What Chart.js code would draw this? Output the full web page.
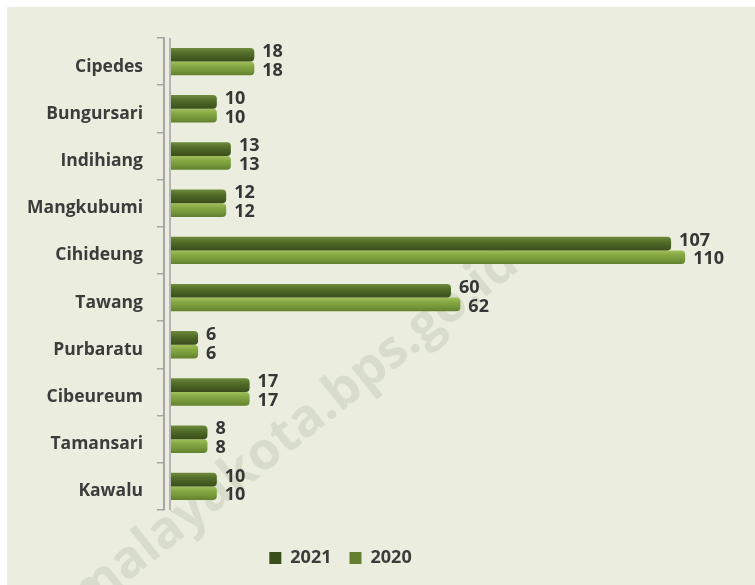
<!DOCTYPE html>
<html>
<head>
<meta charset="utf-8">
<script src="https://cdn.jsdelivr.net/npm/chart.js@4.4.1/dist/chart.umd.min.js"></script>
<style>
  html, body { margin: 0; padding: 0; background: #fff; }
  #panel { position: absolute; left: 7px; top: 7px; width: 748px; height: 578px; background: #ebeedf; }
</style>
</head>
<body>
<div id="panel"><canvas id="chartCanvas"></canvas></div>
<script>
// Kecamatan data
const categories = ["Cipedes", "Bungursari", "Indihiang", "Mangkubumi", "Cihideung",
  "Tawang", "Purbaratu", "Cibeureum", "Tamansari", "Kawalu"];
const values2021 = [18, 10, 13, 12, 107, 60, 6, 17, 8, 10];
const values2020 = [18, 10, 13, 12, 110, 62, 6, 17, 8, 10];
const seriesLabels = ["2021", "2020"];

const FONT = "'Open Sans', 'Noto Sans', sans-serif";
const CAT_PCT = 0.58;

// cylinder-ish shading for each bar, computed from the category scale
function barShade(stops, flat, dsIndex) {
  return (c) => {
    if (c.type !== "data") return flat;
    const y = c.chart.scales.y;
    if (!y || y.ticks.length < 2) return flat;
    const band = Math.abs(y.getPixelForValue(1) - y.getPixelForValue(0));
    const half = band * CAT_PCT / 2;
    const mid = y.getPixelForValue(c.dataIndex) + (dsIndex - 0.5) * half;
    const g = c.chart.ctx.createLinearGradient(0, mid - half / 2, 0, mid + half / 2);
    stops.forEach((s, i) => g.addColorStop(i / (stops.length - 1), s));
    return g;
  };
}

const valueLabels = {
  id: "valueLabels",
  afterDatasetsDraw(chart) {
    const ctx = chart.ctx;
    ctx.save();
    ctx.font = "bold 18px " + FONT;
    ctx.fillStyle = "#363636";
    ctx.textAlign = "left";
    ctx.textBaseline = "middle";
    chart.data.datasets.forEach((ds, i) => {
      chart.getDatasetMeta(i).data.forEach((el, j) => {
        ctx.fillText(String(ds.data[j]), el.x + 8, el.y + (i === 0 ? -3 : 2));
      });
    });
    ctx.restore();
  }
};

const watermark = {
  id: "watermark",
  beforeDatasetsDraw(chart) {
    const ctx = chart.ctx;
    ctx.save();
    ctx.translate(505, 250);
    ctx.rotate(-38.5 * Math.PI / 180);
    ctx.font = "bold 52px " + FONT;
    ctx.fillStyle = "rgba(90,110,70,0.13)";
    ctx.textAlign = "right";
    ctx.textBaseline = "middle";
    ctx.fillText("tasikmalayakota.bps.go.id", 0, 0);
    ctx.restore();
  }
};

// nudge the legend left, it is not centred on the canvas in the original
const legendShift = {
  id: "legendShift",
  afterLayout(chart) {
    if (chart.legend) {
      chart.legend.left -= 29;
      chart.legend.right -= 29;
    }
  }
};

const ctx = document.getElementById("chartCanvas").getContext("2d");
new Chart(ctx, {
  type: "bar",
  data: {
    labels: categories,
    datasets: [
      {
        label: seriesLabels[0],
        data: values2021,
        backgroundColor: barShade(["#6f8c3c", "#55702b", "#465e22", "#3a4e1b"], "#4f6228", 0),
        borderRadius: 4
      },
      {
        label: seriesLabels[1],
        data: values2020,
        backgroundColor: barShade(["#a0c05a", "#86a843", "#76973a", "#62802e"], "#77933c", 1),
        borderRadius: 4
      }
    ]
  },
  options: {
    indexAxis: "y",
    responsive: true,
    maintainAspectRatio: false,
    animation: false,
    events: [],
    categoryPercentage: CAT_PCT,
    barPercentage: 1,
    layout: { padding: { top: 31, right: 23, bottom: 8, left: 0 } },
    scales: {
      x: {
        min: -1.28,
        max: 120,
        afterBuildTicks: (s) => { s.ticks = [{ value: 0 }]; },
        afterFit: (s) => { s.height = 21; },
        ticks: { display: false },
        grid: { color: "#b4b4b4", lineWidth: 2, drawTicks: false },
        border: { display: false }
      },
      y: {
        offset: true,
        afterFit: (s) => { s.width = 157; },
        grid: { drawOnChartArea: false, offset: true, tickLength: 7, color: "#a6a6a6", lineWidth: 1.5 },
        border: { color: "#a6a6a6", width: 2 },
        ticks: {
          padding: 14,
          labelOffset: 5,
          color: "#3c3c3c",
          font: { family: FONT, size: 17.5, weight: "bold" }
        }
      }
    },
    plugins: {
      legend: {
        position: "bottom",
        labels: {
          boxWidth: 12,
          boxHeight: 12,
          padding: 18,
          color: "#3c3c3c",
          font: { family: FONT, size: 18, weight: "bold" }
        }
      },
      tooltip: { enabled: false }
    }
  },
  plugins: [watermark, valueLabels, legendShift]
});
</script>
</body>
</html>
